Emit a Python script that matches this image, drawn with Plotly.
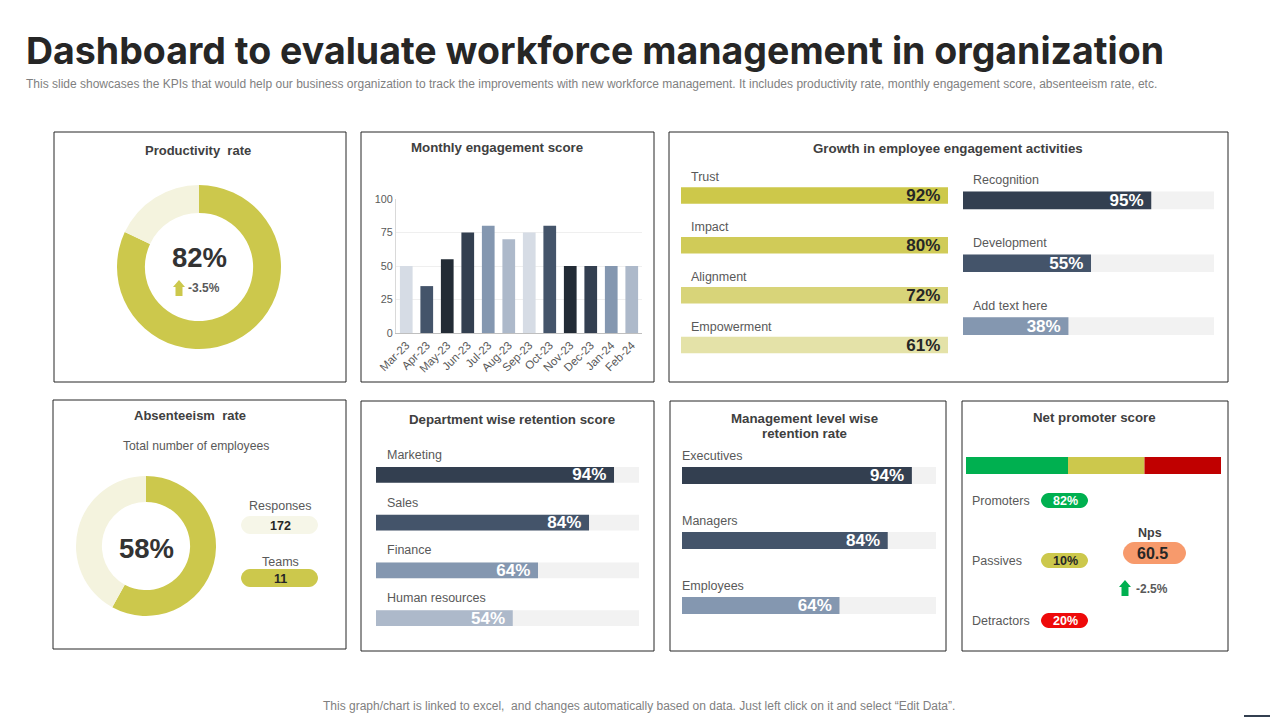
import plotly.graph_objects as go

W = 1280
H = 720

GOLD = '#CCC84C'
PALE = '#F4F3DE'
TRACK = '#F2F2F2'
TXT = '#595959'
HEAD = '#404040'
NAVY1 = '#333F50'
NAVY2 = '#44546A'
NAVY3 = '#8497B0'
NAVY4 = '#ADB9CA'
NAVY5 = '#D6DCE5'
INK = '#222B35'

# data
productivity = [82, 18]
absenteeism = [58, 42]

months = ['Mar-23', 'Apr-23', 'May-23', 'Jun-23', 'Jul-23', 'Aug-23',
          'Sep-23', 'Oct-23', 'Nov-23', 'Dec-23', 'Jan-24', 'Feb-24']
engagement = [50, 35, 55, 75, 80, 70, 75, 80, 50, 50, 50, 50]
month_colors = [NAVY5, NAVY2, INK, NAVY1, NAVY3, NAVY4, NAVY5, NAVY2, INK, NAVY1, NAVY3, NAVY4]

# the drawn bar lengths differ from the printed labels in the source slide
growth_left = ['Trust', 'Impact', 'Alignment', 'Empowerment']
growth_left_len = [100, 100, 100, 100]
growth_left_txt = ['92%', '80%', '72%', '61%']
growth_left_col = ['#CDC84A', '#D0CB58', '#D8D479', '#E4E2A8']

growth_right = ['Recognition', 'Development', 'Add text here']
growth_right_len = [75, 51, 42]
growth_right_txt = ['95%', '55%', '38%']
growth_right_col = [NAVY1, NAVY2, NAVY3]

depts = ['Marketing', 'Sales', 'Finance', 'Human resources']
depts_len = [90.5, 81, 61.6, 52]
depts_txt = ['94%', '84%', '64%', '54%']
depts_col = [NAVY1, NAVY2, NAVY3, NAVY4]

levels = ['Executives', 'Managers', 'Employees']
levels_len = [90.5, 81, 62]
levels_txt = ['94%', '84%', '64%']
levels_col = [NAVY1, NAVY2, NAVY3]

nps_parts = [40, 30, 30]
nps_colors = ['#00B050', GOLD, '#C00000']


def px(x):
    return x / W


def py(y):
    return 1 - y / H


def pill(x0, y0, x1, y1, color):
    r = (y1 - y0) / 2
    p = 'M %f,%f L %f,%f ' % (px(x0 + r), py(y0), px(x1 - r), py(y0))
    p += 'C %f,%f %f,%f %f,%f ' % (px(x1 - r * .45), py(y0), px(x1), py(y0 + r * .55), px(x1), py(y0 + r))
    p += 'C %f,%f %f,%f %f,%f ' % (px(x1), py(y1 - r * .55), px(x1 - r * .45), py(y1), px(x1 - r), py(y1))
    p += 'L %f,%f ' % (px(x0 + r), py(y1))
    p += 'C %f,%f %f,%f %f,%f ' % (px(x0 + r * .45), py(y1), px(x0), py(y1 - r * .55), px(x0), py(y1 - r))
    p += 'C %f,%f %f,%f %f,%f Z' % (px(x0), py(y0 + r * .55), px(x0 + r * .45), py(y0), px(x0 + r), py(y0))
    return dict(type='path', xref='paper', yref='paper', path=p, fillcolor=color, line=dict(width=0))


def arrow(cx, y0, y1, color):
    pts = [(cx, y0), (cx + 6, y0 + 7), (cx + 3.5, y0 + 7), (cx + 3.5, y1),
           (cx - 3.5, y1), (cx - 3.5, y0 + 7), (cx - 6, y0 + 7)]
    p = 'M ' + ' L '.join('%f,%f' % (px(a), py(b)) for a, b in pts) + ' Z'
    return dict(type='path', xref='paper', yref='paper', path=p, fillcolor=color, line=dict(width=0))


def text(x, y, s, size=12.5, color=TXT, bold=False, anchor='center', font='Liberation Sans'):
    return dict(xref='paper', yref='paper', x=px(x), y=py(y), text='<b>%s</b>' % s if bold else s,
                showarrow=False, xanchor=anchor, yanchor='middle',
                font=dict(family=font, size=size, color=color))


fig = go.Figure()
shapes = []
notes = []

# panel frames
panels = [(54, 132, 346, 382), (361, 132, 654, 382), (669, 132, 1228, 382), (53, 400, 346, 649),
          (361, 401, 654, 651), (670, 401, 946, 651), (962, 401, 1228, 651)]
for a, b, c, d in panels:
    shapes.append(dict(type='rect', xref='paper', yref='paper', x0=px(a), x1=px(c), y0=py(b), y1=py(d),
                       line=dict(color='#262626', width=1), fillcolor='rgba(0,0,0,0)'))

# donuts
fig.add_trace(go.Pie(values=productivity, hole=.66, sort=False, direction='clockwise', rotation=0,
                     marker=dict(colors=[GOLD, PALE]), textinfo='none', showlegend=False,
                     domain=dict(x=[px(117), px(281)], y=[py(349), py(185)])))
fig.add_trace(go.Pie(values=absenteeism, hole=.63, sort=False, direction='clockwise', rotation=0,
                     marker=dict(colors=[GOLD, PALE]), textinfo='none', showlegend=False,
                     domain=dict(x=[px(76), px(216)], y=[py(616), py(476)])))

# monthly columns
fig.add_trace(go.Bar(x=months, y=engagement, marker=dict(color=month_colors, line=dict(width=0)),
                     width=.62, showlegend=False))
fig.update_layout(
    xaxis=dict(domain=[px(396), px(642)], anchor='y', tickangle=-45, showgrid=False, showline=True,
               linecolor='#BFBFBF', ticks='', tickfont=dict(size=11.5, color=TXT, family='Liberation Sans')),
    yaxis=dict(domain=[py(333), py(199)], anchor='x', range=[0, 100], tickvals=[0, 25, 50, 75, 100],
               gridcolor='#EFEFEF', showline=True, linecolor='#D9D9D9', ticks='', zeroline=False,
               tickfont=dict(size=10.8, color=TXT, family='Liberation Sans')))


def hbars(n, names, lengths, labels, colors, x0, x1, y0, y1, width, shift, label_x, label_col='white', track=True):
    xa = 'x%d' % n
    ya = 'y%d' % n
    if track:
        fig.add_trace(go.Bar(y=names, x=[100] * len(names), orientation='h', width=width, xaxis=xa, yaxis=ya,
                             marker=dict(color=TRACK, line=dict(width=0)), showlegend=False))
    fig.add_trace(go.Bar(y=names, x=lengths, orientation='h', width=width, xaxis=xa, yaxis=ya,
                         marker=dict(color=colors, line=dict(width=0)), showlegend=False,
                         text=[t + '\u00a0' for t in labels], textposition='inside', insidetextanchor='end',
                         textangle=0, constraintext='none', cliponaxis=False,
                         textfont=dict(family='Liberation Sans', size=17, color=label_col, weight='bold')))
    fig.update_layout(**{
        'xaxis%d' % n: dict(domain=[px(x0), px(x1)], range=[0, 100], visible=False, anchor=ya),
        'yaxis%d' % n: dict(domain=[py(y1), py(y0)], range=[len(names) - .5, -.5], visible=False, anchor=xa,
                            type='category', categoryarray=names),
    })
    for name in names:
        notes.append(dict(xref=xa, yref=ya, x=0, y=name, text=name, showarrow=False, xanchor='left',
                          yanchor='middle', xshift=label_x, yshift=shift,
                          font=dict(family='Liberation Sans', size=12.5, color=TXT)))


hbars(2, growth_left, growth_left_len, growth_left_txt, growth_left_col, 681, 948, 170.5, 370, .33, 18, 8,
      label_col='#262626', track=False)
hbars(3, growth_right, growth_right_len, growth_right_txt, growth_right_col, 963, 1214, 169, 357.5, .28, 20, 8)
hbars(4, depts, depts_len, depts_txt, depts_col, 376, 639, 451, 642, .335, 20, 9)
hbars(5, levels, levels_len, levels_txt, levels_col, 682, 936, 443, 638, .26, 20, -2)

# net promoter strip
base = 0
for part, col in zip(nps_parts, nps_colors):
    fig.add_trace(go.Bar(y=['nps'], x=[part], base=base, orientation='h', xaxis='x6', yaxis='y6', width=1,
                         marker=dict(color=col, line=dict(width=0)), showlegend=False))
    base += part
fig.update_layout(
    xaxis6=dict(domain=[px(966), px(1221)], range=[0, 100], visible=False, anchor='y6'),
    yaxis6=dict(domain=[py(474), py(457)], visible=False, anchor='x6', range=[-.5, .5]))

# titles
notes.append(text(24, 51, 'Dashboard to evaluate workforce management in organization', size=37.5, color='#262626',
                  bold=True, anchor='left', font='Inter'))
notes.append(text(24, 84, 'This slide showcases the KPIs that would help our business organization to track the '
                          'improvements with new workforce management. It includes productivity rate, monthly '
                          'engagement score, absenteeism rate, etc.', size=12, color='#7F7F7F', anchor='left'))
notes.append(text(639, 706, 'This graph/chart is linked to excel,  and changes automatically based on data. '
                            'Just left click on it and select “Edit Data”.', size=12, color='#7F7F7F'))

notes.append(text(198, 150, 'Productivity  rate', size=13, color=HEAD, bold=True))
notes.append(text(497, 147.5, 'Monthly engagement score', size=13.3, color=HEAD, bold=True))
notes.append(text(948, 148.5, 'Growth in employee engagement activities', size=13.3, color=HEAD, bold=True))
notes.append(text(190, 415.5, 'Absenteeism  rate', size=13, color=HEAD, bold=True))
notes.append(text(512, 419, 'Department wise retention score', size=13.3, color=HEAD, bold=True))
notes.append(text(804, 418.5, 'Management level wise', size=13.3, color=HEAD, bold=True))
notes.append(text(804, 433.5, 'retention rate', size=13.3, color=HEAD, bold=True))
notes.append(text(1094, 417, 'Net promoter score', size=13.3, color=HEAD, bold=True))

# donut centres
notes.append(text(199, 257, '82%', size=27.5, color='#333333', bold=True))
shapes.append(arrow(179, 280, 296, GOLD))
notes.append(text(204, 288, '-3.5%', size=12, color=TXT, bold=True))
notes.append(text(146, 548, '58%', size=27.5, color='#333333', bold=True))
notes.append(text(196, 446, 'Total number of employees', size=12.2, color=TXT))

# responses and teams
notes.append(text(280, 506, 'Responses', size=12.5))
shapes.append(pill(241, 516, 318, 534, '#F6F6E8'))
notes.append(text(280, 526, '172', size=12.5, color='#262626', bold=True))
notes.append(text(280, 562, 'Teams', size=12.5))
shapes.append(pill(241, 569, 318, 587, GOLD))
notes.append(text(280, 579, '11', size=12.5, color='#262626', bold=True))

# nps block
nps_rows = ['Promoters', 'Passives', 'Detractors']
nps_vals = ['82%', '10%', '20%']
nps_pills = ['#00B050', GOLD, '#EE0A0A']
nps_ink = ['white', '#262626', 'white']
for name, val, col, ink, y in zip(nps_rows, nps_vals, nps_pills, nps_ink, [501, 561, 621]):
    notes.append(text(970, y, name, size=12.5, anchor='left'))
    shapes.append(pill(1041, y - 8, 1088, y + 7, col))
    notes.append(text(1065, y, val, size=12.5, color=ink, bold=True))
notes.append(text(1150, 533, 'Nps', size=12.5, color=HEAD, bold=True))
shapes.append(pill(1123, 542, 1186, 564, '#F79A6C'))
notes.append(text(1152, 553, '60.5', size=16, color='#262626', bold=True))
shapes.append(arrow(1125, 580, 596, '#00B050'))
notes.append(text(1152, 589, '-2.5%', size=12, color=TXT, bold=True))

# little rule in the corner of the slide
shapes.append(dict(type='line', xref='paper', yref='paper', x0=px(1244), x1=px(1270), y0=py(716), y1=py(716),
                   line=dict(color=NAVY1, width=2)))

# default template turns on automargin, which shifts the whole grid
fig.update_layout(template='none', width=W, height=H, margin=dict(l=0, r=0, t=0, b=0), paper_bgcolor='white',
                  plot_bgcolor='white', barmode='overlay', bargap=.3, shapes=shapes, annotations=notes,
                  hovermode=False)
fig.write_html('out.html', config=dict(displayModeBar=False), post_script="document.body.style.margin='0';")
